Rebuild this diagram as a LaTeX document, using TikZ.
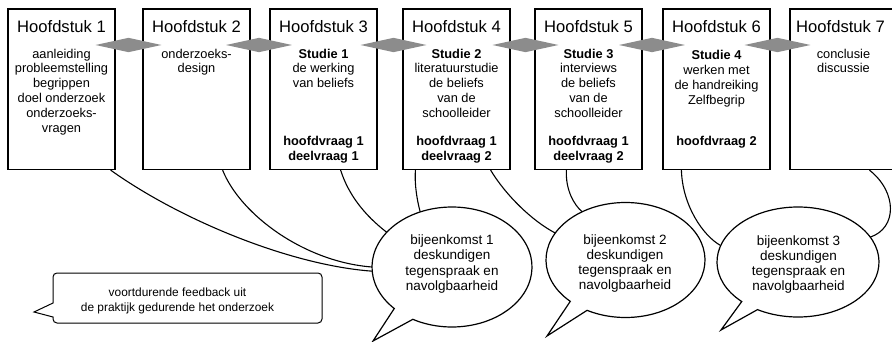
\documentclass[tikz,border=0pt]{standalone}
\usepackage{fontspec}
\setmainfont{Liberation Sans}
\usetikzlibrary{shapes.geometric}
\definecolor{diam}{RGB}{140,140,140}
\begin{document}
\begin{tikzpicture}[x=1pt,y=-1pt,
  chap/.style={draw, line width=1.2pt, minimum width=107pt, minimum height=160.5pt, inner sep=0pt, fill=white},
  title/.style={font=\fontsize{16.6}{19}\selectfont, anchor=base, inner sep=0pt},
  body/.style={font=\fontsize{12.8}{14.8}\selectfont, align=center, anchor=north, inner sep=0pt},
  btext/.style={font=\fontsize{13.5}{15.2}\selectfont, align=center, anchor=north, inner sep=0pt},
  fbtext/.style={font=\fontsize{11.9}{15}\selectfont, align=center, anchor=north, inner sep=0pt},
  link/.style={line width=1.1pt},
  conn/.style={draw=none, fill=diam, shape=diamond, minimum width=66pt, minimum height=14.5pt, inner sep=0pt},
  bubarea/.style={shape=ellipse, draw=none, inner sep=0pt, outer sep=0pt},
  bubline/.style={draw, line width=1.2pt, fill=white},
  fbline/.style={draw, line width=1pt, fill=white}
]
\useasboundingbox (0,0) rectangle (892,342);
\clip (0,0) rectangle (892,342);

% chapter boxes
\node[chap] (b1) at (61.5,89.25) {};
\node[chap] (b2) at (196.5,89.25) {};
\node[chap] (b3) at (323.5,89.25) {};
\node[chap] (b4) at (456.5,89.25) {};
\node[chap] (b5) at (588.5,89.25) {};
\node[chap] (b6) at (716.5,89.25) {};
\node[chap] (b7) at (843.5,89.25) {};

% bubble areas (for anchors)
\node[bubarea, minimum width=160pt, minimum height=120pt] (bub1) at (452,267) {};
\node[bubarea, minimum width=159pt, minimum height=115pt] (bub2) at (625.5,260) {};
\node[bubarea, minimum width=162pt, minimum height=110pt] (bub3) at (798,262) {};

% connectors
\draw[link] ([xshift=-5pt]b1.south east) .. controls +(70,50) and +(-82,-6) .. (bub1.183);
\draw[link] ([xshift=-28pt]b2.south east) .. controls +(18,45) and +(-67,-5) .. (bub1.180);
\draw[link] ([xshift=-37pt]b3.south east) .. controls +(8,25) and +(-22,-17) .. (bub1.152);
\draw[link] ([xshift=13pt]b4.south west) .. controls +(-1,15) and +(-3,-11) .. (bub1.120);
\draw[link] ([xshift=-20pt]b4.south east) .. controls +(15,25) and +(-23,-12) .. (bub2.159);
\draw[link] ([xshift=32pt]b5.south west) .. controls +(-1,20) and +(-8,-7) .. (bub2.132);
\draw[link] ([xshift=19pt]b6.south west) .. controls +(1,35) and +(-18,-10) .. (bub3.168);
\draw[link] ([xshift=80pt]b7.south west) .. controls +(28,22) and +(27,-9) .. (bub3.19);

% bubble outlines
\draw[bubline] (bub1.center) ++(-136.2:80pt and 60pt) arc[start angle=-136.2, end angle=-479.3, x radius=80pt, y radius=60pt] -- (373,341) -- cycle;
\draw[bubline] (bub2.center) ++(-134:79.5pt and 57.5pt) arc[start angle=-134, end angle=-478.9, x radius=79.5pt, y radius=57.5pt] -- (547,336) -- cycle;
\draw[bubline] (bub3.center) ++(-134:81pt and 55pt) arc[start angle=-134, end angle=-480, x radius=81pt, y radius=55pt] -- (721,330) -- cycle;

% feedback callout
\draw[fbline] (53,303) -- (34,312) -- (53,317) -- (53,319) to[out=-90,in=180] (57,323) -- (318,323) to[out=0,in=-90] (322,319) -- (322,277) to[out=90,in=0] (318,273) -- (57,273) to[out=180,in=90] (53,277) -- cycle;

% diamonds
\node[conn] (d1) at (128.5,45) {};
\node[conn] (d2) at (259,45) {};
\node[conn] (d3) at (393.5,45) {};
\node[conn] (d4) at (525.5,45) {};
\node[conn] (d5) at (652,45) {};
\node[conn] (d6) at (777.5,45) {};

% titles
\node[title] (h1) at (61.5,32.5) {Hoofdstuk 1};
\node[title] (h2) at (196.5,32.5) {Hoofdstuk 2};
\node[title] (h3) at (323.5,32.5) {Hoofdstuk 3};
\node[title] (h4) at (456.5,32.5) {Hoofdstuk 4};
\node[title] (h5) at (588.5,32.5) {Hoofdstuk 5};
\node[title] (h6) at (716.5,32.5) {Hoofdstuk 6};
\node[title] (h7) at (840.5,32.5) {Hoofdstuk 7};

% bodies
\node[body] (t1) at (61.5,48.7) {aanleiding\\probleemstelling\\begrippen\\doel onderzoek\\onderzoeks-\\vragen};
\node[body] (t2) at (196.5,48.7) {onderzoeks-\\design};
\node[body] (t3) at (323.5,48.7) {\textbf{Studie 1}\\de werking\\van beliefs};
\node[body] (t4) at (456.5,48.7) {\textbf{Studie 2}\\literatuurstudie\\de beliefs\\van de\\schoolleider};
\node[body] (t5) at (588.5,48.7) {\textbf{Studie 3}\\interviews\\de beliefs\\van de\\schoolleider};
\node[body] (t6) at (716.5,50.2) {\textbf{Studie 4}\\werken met\\de handreiking\\Zelfbegrip};
\node[body] (t7) at (843.5,48.7) {conclusie\\discussie};

\node[body] (q3) at (323.5,136.3) {\textbf{hoofdvraag 1}\\\textbf{deelvraag 1}};
\node[body] (q4) at (456.5,136.3) {\textbf{hoofdvraag 1}\\\textbf{deelvraag 2}};
\node[body] (q5) at (588.5,136.3) {\textbf{hoofdvraag 1}\\\textbf{deelvraag 2}};
\node[body] (q6) at (716.5,136.3) {\textbf{hoofdvraag 2}};

% bubble texts
\node[btext] (bt1) at (452,234.8) {bijeenkomst 1\\deskundigen\\tegenspraak en\\navolgbaarheid};
\node[btext] (bt2) at (625,234.3) {bijeenkomst 2\\deskundigen\\tegenspraak en\\navolgbaarheid};
\node[btext] (bt3) at (798.5,235.3) {bijeenkomst 3\\deskundigen\\tegenspraak en\\navolgbaarheid};

% feedback text
\node[fbtext] (fb) at (177.5,287.6) {voortdurende feedback uit\\de praktijk gedurende het onderzoek};
\end{tikzpicture}
\end{document}
